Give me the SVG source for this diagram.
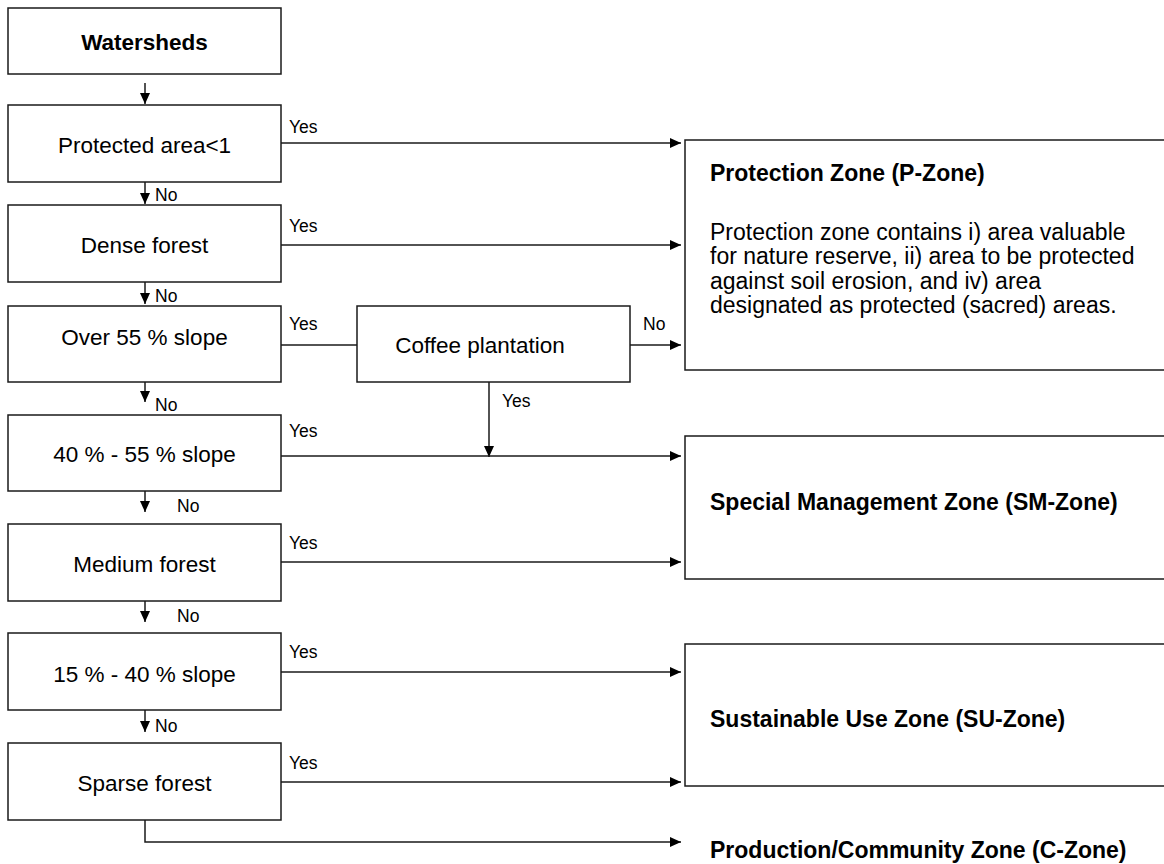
<svg xmlns="http://www.w3.org/2000/svg" width="1164" height="864" viewBox="0 0 1164 864">
<style>
.box{fill:#fff;stroke:#1a1a1a;stroke-width:1.5}
.ln{fill:none;stroke:#1a1a1a;stroke-width:1.5}
.arr{marker-end:url(#ah)}
.t{font-family:"Liberation Sans",Arial,sans-serif;font-size:22.5px;fill:#000}
.r{font-size:23px}
.tc{text-anchor:middle}
.b{font-weight:bold}
.lb{font-family:"Liberation Sans",Arial,sans-serif;font-size:17.5px;fill:#000}
</style>
<defs>
<marker id="ah" markerUnits="userSpaceOnUse" markerWidth="12" markerHeight="11" refX="11" refY="5" orient="auto">
<path d="M0,0 L11,5 L0,10 z" fill="#000"/>
</marker>
</defs>
<rect width="1164" height="864" fill="#fff"/>
<g id="connectors">
<line class="ln arr" x1="145" y1="83" x2="145" y2="104"/>
<line class="ln arr" x1="145" y1="182" x2="145" y2="204"/>
<line class="ln arr" x1="145" y1="282" x2="145" y2="304"/>
<line class="ln arr" x1="145" y1="382" x2="145" y2="402"/>
<line class="ln arr" x1="145" y1="491" x2="145" y2="512"/>
<line class="ln arr" x1="145" y1="601" x2="145" y2="622"/>
<line class="ln arr" x1="145" y1="710" x2="145" y2="732"/>
<line class="ln arr" x1="281" y1="143" x2="681" y2="143"/>
<line class="ln arr" x1="281" y1="245" x2="681" y2="245"/>
<line class="ln" x1="281" y1="345" x2="357" y2="345"/>
<line class="ln arr" x1="630" y1="345" x2="681" y2="345"/>
<line class="ln arr" x1="489" y1="382" x2="489" y2="457"/>
<line class="ln arr" x1="281" y1="456" x2="681" y2="456"/>
<line class="ln arr" x1="281" y1="562" x2="681" y2="562"/>
<line class="ln arr" x1="281" y1="672" x2="681" y2="672"/>
<line class="ln arr" x1="281" y1="782" x2="681" y2="782"/>
<polyline class="ln arr" points="145,820 145,842 681,842"/>
<text class="lb" x="289" y="133">Yes</text>
<text class="lb" x="289" y="232">Yes</text>
<text class="lb" x="289" y="330">Yes</text>
<text class="lb" x="643" y="330">No</text>
<text class="lb" x="502" y="407">Yes</text>
<text class="lb" x="289" y="437">Yes</text>
<text class="lb" x="289" y="549">Yes</text>
<text class="lb" x="289" y="658">Yes</text>
<text class="lb" x="289" y="769">Yes</text>
<text class="lb" x="155" y="201">No</text>
<text class="lb" x="155" y="302">No</text>
<text class="lb" x="155" y="411">No</text>
<text class="lb" x="177" y="512">No</text>
<text class="lb" x="177" y="622">No</text>
<text class="lb" x="155" y="732">No</text>
</g>
<g id="watersheds"><rect class="box" x="8" y="8" width="273" height="66"/><text class="t tc b" x="144.5" y="50">Watersheds</text></g>
<g id="protected-area"><rect class="box" x="8" y="105" width="273" height="77"/><text class="t tc" x="144.5" y="153">Protected area&lt;1</text></g>
<g id="dense-forest"><rect class="box" x="8" y="205" width="273" height="77"/><text class="t tc" x="144.5" y="253">Dense forest</text></g>
<g id="over-55"><rect class="box" x="8" y="306" width="273" height="76"/><text class="t tc" x="144.5" y="345">Over 55 % slope</text></g>
<g id="coffee"><rect class="box" x="357" y="306" width="273" height="76"/><text class="t tc" x="480" y="353">Coffee plantation</text></g>
<g id="slope-40-55"><rect class="box" x="8" y="415" width="273" height="76"/><text class="t tc" x="144.5" y="462">40 % - 55 % slope</text></g>
<g id="medium-forest"><rect class="box" x="8" y="524" width="273" height="77"/><text class="t tc" x="144.5" y="572">Medium forest</text></g>
<g id="slope-15-40"><rect class="box" x="8" y="633" width="273" height="77"/><text class="t tc" x="144.5" y="682">15 % - 40 % slope</text></g>
<g id="sparse-forest"><rect class="box" x="8" y="743" width="273" height="77"/><text class="t tc" x="144.5" y="791">Sparse forest</text></g>
<g id="p-zone"><rect class="box" x="685" y="140" width="490" height="230"/>
<text class="t r b" x="710" y="181">Protection Zone (P-Zone)</text>
<text class="t r" x="710" y="240">Protection zone contains i) area valuable</text>
<text class="t r" x="710" y="264">for nature reserve, ii) area to be protected</text>
<text class="t r" x="710" y="289">against soil erosion, and iv) area</text>
<text class="t r" x="710" y="313">designated as protected  (sacred) areas.</text>
</g>
<g id="sm-zone"><rect class="box" x="685" y="436" width="490" height="143"/><text class="t r b" x="710" y="510">Special Management Zone (SM-Zone)</text></g>
<g id="su-zone"><rect class="box" x="685" y="644" width="490" height="142"/><text class="t r b" x="710" y="727">Sustainable Use Zone (SU-Zone)</text></g>
<g id="c-zone"><text class="t r b" x="710" y="858">Production/Community Zone (C-Zone)</text></g>
</svg>
